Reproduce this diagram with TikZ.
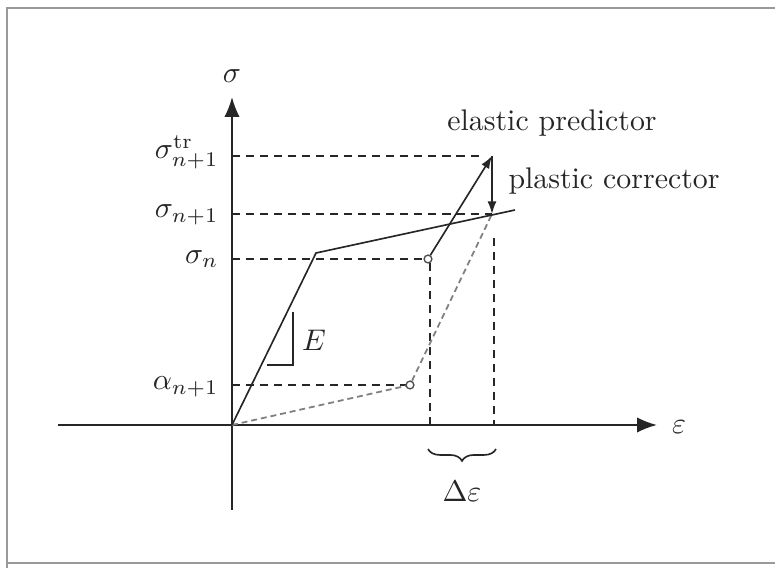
\documentclass[tikz,border=0pt]{standalone}
\usetikzlibrary{arrows.meta,decorations.pathreplacing,calc}
\begin{document}
\begin{tikzpicture}[x=0.335pt,y=-0.335pt,
  ink/.style={draw=black!85, line width=0.55pt},
  axisline/.style={draw=black!85, line width=0.7pt, -{Latex[length=6.7pt,width=5.2pt]}},
  guide/.style={draw=black!85, line width=0.55pt, dash pattern=on 2.7pt off 2pt},
  unload/.style={draw=black!50, line width=0.6pt, dash pattern=on 2pt off 1.3pt},
  vec/.style={ink, -{Latex[length=4.2pt,width=3pt]}},
  dotnode/.style={circle, draw=black!70, fill=white, line width=0.45pt, inner sep=0pt, minimum size=2.6pt},
  lab/.style={text=black!85, inner sep=1pt},
  frameline/.style={draw=black!40, line width=0.7pt}]
\useasboundingbox (0,0) rectangle (775,568);
% frame of the screenshot
\draw[frameline] (7,568) -- (7,8) -- (775,8);
\draw[frameline] (7,563) -- (775,563);

% points
\coordinate (O) at (232,425);
\coordinate (yb) at (232,510);
\coordinate (yt) at (232,97);
\coordinate (xl) at (58,425);
\coordinate (xr) at (657,425);
\coordinate (Y) at (316,253);
\coordinate (Hend) at (515,210);
\coordinate (str) at (492,156);
\coordinate (sn1) at (492,214);

% axes
\draw[axisline] (yb) -- (yt);
\draw[axisline] (xl) -- (xr);
\node[lab] (sig) at (232,76) {$\sigma$};
\node[lab] (eps) at (679,427) {$\varepsilon$};

% guide lines
\draw[guide] (O |- str) -- ($(str)+(-10,0)$);
\draw[guide] (O |- sn1) -- (sn1);
\draw[guide] (O |- 0,259) -- (424,259);
\draw[guide] (O |- 0,385) -- (406,385);
\draw[guide] (430,263) -- (430,425);
\draw[guide] ($(sn1)+(2,24)$) -- ($(sn1 |- O)+(2,0)$);

% unloading path
\draw[unload] (O) -- (410,385) -- (sn1);

% stress-strain curve
\draw[ink] (O) -- (Y) -- (Hend);

% state points
\node[dotnode] (sn) at (428,259) {};
\node[dotnode] (al) at (410,385) {};

% predictor / corrector
\draw[vec] (sn) -- (str);
\draw[vec] (str) -- (sn1);

% slope triangle
\draw[ink] (293,312) -- (293,365) -- (267,365);
\node[lab] (E) at (314,340) {$E$};

% brace
\draw[ink, decorate, decoration={brace, amplitude=4pt, mirror}] (428,449) -- (496,449);
\node[lab] (de) at (462,491) {$\Delta\varepsilon$};

% labels
\node[lab, anchor=east] (l1) at (222,152) {$\sigma_{n+1}^{\mathrm{tr}}$};
\node[lab, anchor=east] (l2) at (222,215) {$\sigma_{n+1}$};
\node[lab, anchor=east] (l3) at (222,259) {$\sigma_{n}$};
\node[lab, anchor=east] (l4) at (222,387) {$\alpha_{n+1}$};
\node[lab] (ep) at (552,123) {elastic predictor};
\node[lab] (pc) at (614,181) {plastic corrector};
\end{tikzpicture}
\end{document}
